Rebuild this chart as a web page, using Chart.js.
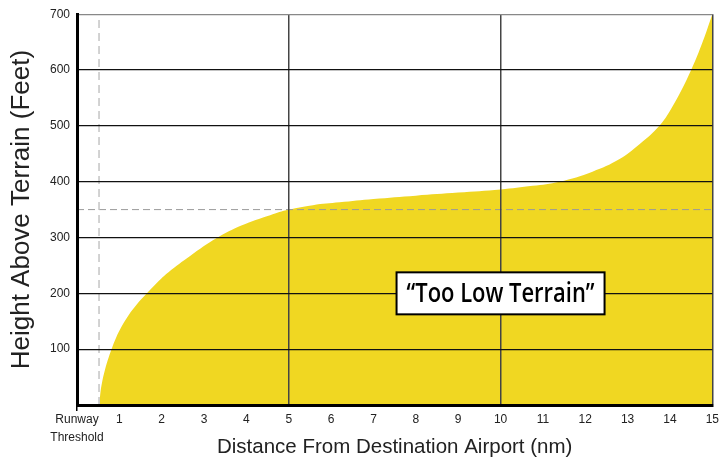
<!DOCTYPE html>
<html>
<head>
<meta charset="utf-8">
<script src="https://cdn.jsdelivr.net/npm/chart.js@4/dist/chart.umd.min.js"></script>
<style>
  html, body { margin: 0; padding: 0; background: #fff; }
  #wrap { width: 719px; height: 464px; }
</style>
</head>
<body>
<div id="wrap"><canvas id="terrainChart" width="719" height="464"></canvas></div>
<script>
// distance (nm) and terrain clearance (ft)
const distanceNm = [0.53, 0.55, 0.59, 0.65, 0.725, 0.815, 0.92, 1.05, 1.21, 1.41, 1.65, 1.9, 2.16,
                    2.67, 3.3, 3.88, 4.56, 5, 5.57, 6.2, 7, 8, 9, 10, 10.76, 11.39,
                    12.17, 12.8, 13.28, 13.75, 14.1, 14.5, 14.77, 15];
const heightFt   = [0, 20, 40, 60, 80, 100, 120, 140, 160, 180, 200, 220, 238,
                    267, 299, 321.5, 340, 350, 358, 363, 369, 375, 380.5, 386, 392.5, 400,
                    418, 440, 467, 500, 540, 600, 650, 700];

// dashed reference lines
const thresholdX = [0.52, 0.52];
const thresholdY = [0, 700];
const levelX = [0, 15];
const levelY = [350, 350];

// axis ticks
const xTickValues = [0, 1, 2, 3, 4, 5, 6, 7, 8, 9, 10, 11, 12, 13, 14, 15];
const xTickLabels = [['Runway', 'Threshold'], '1', '2', '3', '4', '5', '6', '7', '8', '9', '10', '11', '12', '13', '14', '15'];
const xGridValues = [5, 10, 15];

// label in the filled area
const zoneLabel = '\u201CToo Low Terrain\u201D';
const zoneLabelX = 10;
const zoneLabelY = 200;

const FONT = "'Liberation Sans', Arial, sans-serif";
const toPoints = (xs, ys) => xs.map((x, i) => ({ x: x, y: ys[i] }));

// white boxed label, drawn last
const zoneLabelPlugin = {
    id: 'zoneLabel',
    afterDraw(chart) {
        const ctx = chart.ctx;
        const cx = chart.scales.x.getPixelForValue(zoneLabelX);
        const cy = chart.scales.y.getPixelForValue(zoneLabelY);
        const w = 208, h = 42;
        ctx.save();
        ctx.fillStyle = '#fff';
        ctx.fillRect(cx - w / 2, cy - h / 2, w, h);
        ctx.lineWidth = 2;
        ctx.strokeStyle = '#000';
        ctx.strokeRect(cx - w / 2, cy - h / 2, w, h);

        ctx.font = "600 27px 'Open Sans', sans-serif";
        ctx.fillStyle = '#000';
        ctx.textAlign = 'center';
        ctx.textBaseline = 'middle';
        const tw = ctx.measureText(zoneLabel).width;
        ctx.translate(cx, cy + 1);
        ctx.scale(188 / tw, 1);
        ctx.fillText(zoneLabel, 0, 0);
        ctx.restore();
    }
};

new Chart(document.getElementById('terrainChart'), {
    type: 'line',
    data: {
        datasets: [
            {
                data: toPoints(thresholdX, thresholdY),
                borderColor: '#c4c4c4',
                borderWidth: 1.5,
                borderDash: [8, 5],
                pointRadius: 0,
                fill: false,
                order: 0
            },
            {
                data: toPoints(levelX, levelY),
                borderColor: '#9a9a9a',
                borderWidth: 1,
                borderDash: [7, 4],
                pointRadius: 0,
                fill: false,
                order: 0
            },
            {
                data: toPoints(distanceNm, heightFt),
                borderWidth: 0,
                borderColor: 'rgba(0,0,0,0)',
                backgroundColor: '#f0d722',
                pointRadius: 0,
                fill: 'origin',
                tension: 0.4,
                order: 1
            }
        ]
    },
    options: {
        responsive: false,
        devicePixelRatio: 1,
        animation: false,
        layout: { padding: { top: 10, right: 6, left: 0, bottom: 0 } },
        elements: { line: { capBezierPoints: false } },
        plugins: {
            legend: { display: false },
            tooltip: { enabled: false }
        },
        scales: {
            x: {
                type: 'linear',
                min: 0,
                max: 15,
                afterBuildTicks: s => { s.ticks = xTickValues.map(v => ({ value: v })); },
                afterFit: s => { s.height = 59; },
                ticks: {
                    autoSkip: false,
                    maxRotation: 0,
                    padding: 0,
                    color: '#222',
                    font: { family: FONT, size: 12, lineHeight: 1.5 },
                    callback: v => xTickLabels[xTickValues.indexOf(v)]
                },
                grid: {
                    z: 1,
                    color: c => (c.tick && xGridValues.includes(c.tick.value)) ? '#444' : 'rgba(0,0,0,0)',
                    lineWidth: 1.5,
                    drawTicks: true,
                    tickLength: 6,
                    tickColor: c => (c.tick && c.tick.value === 0) ? '#000' : 'rgba(0,0,0,0)',
                    tickWidth: 1.5
                },
                border: { display: true, color: '#000', width: 3, z: 2 },
                title: {
                    display: true,
                    text: 'Distance From Destination Airport (nm)',
                    color: '#222',
                    font: { family: FONT, size: 20.5 },
                    padding: { top: 0, bottom: 4 }
                }
            },
            y: {
                min: 0,
                max: 700,
                afterFit: s => { s.width = 77; },
                ticks: {
                    stepSize: 100,
                    padding: 7,
                    color: '#222',
                    font: { family: FONT, size: 12 },
                    callback: v => v === 0 ? '' : v
                },
                grid: {
                    z: 1,
                    color: c => {
                        if (!c.tick || c.tick.value === 0) return 'rgba(0,0,0,0)';
                        return c.tick.value === 700 ? '#888' : '#111';
                    },
                    lineWidth: 1.2,
                    drawTicks: false
                },
                border: { display: true, color: '#000', width: 3, z: 2 },
                title: {
                    display: true,
                    text: 'Height Above Terrain (Feet)',
                    color: '#222',
                    font: { family: FONT, size: 26 },
                    padding: { top: 6, bottom: 0 }
                }
            }
        }
    },
    plugins: [zoneLabelPlugin]
});
</script>
</body>
</html>
